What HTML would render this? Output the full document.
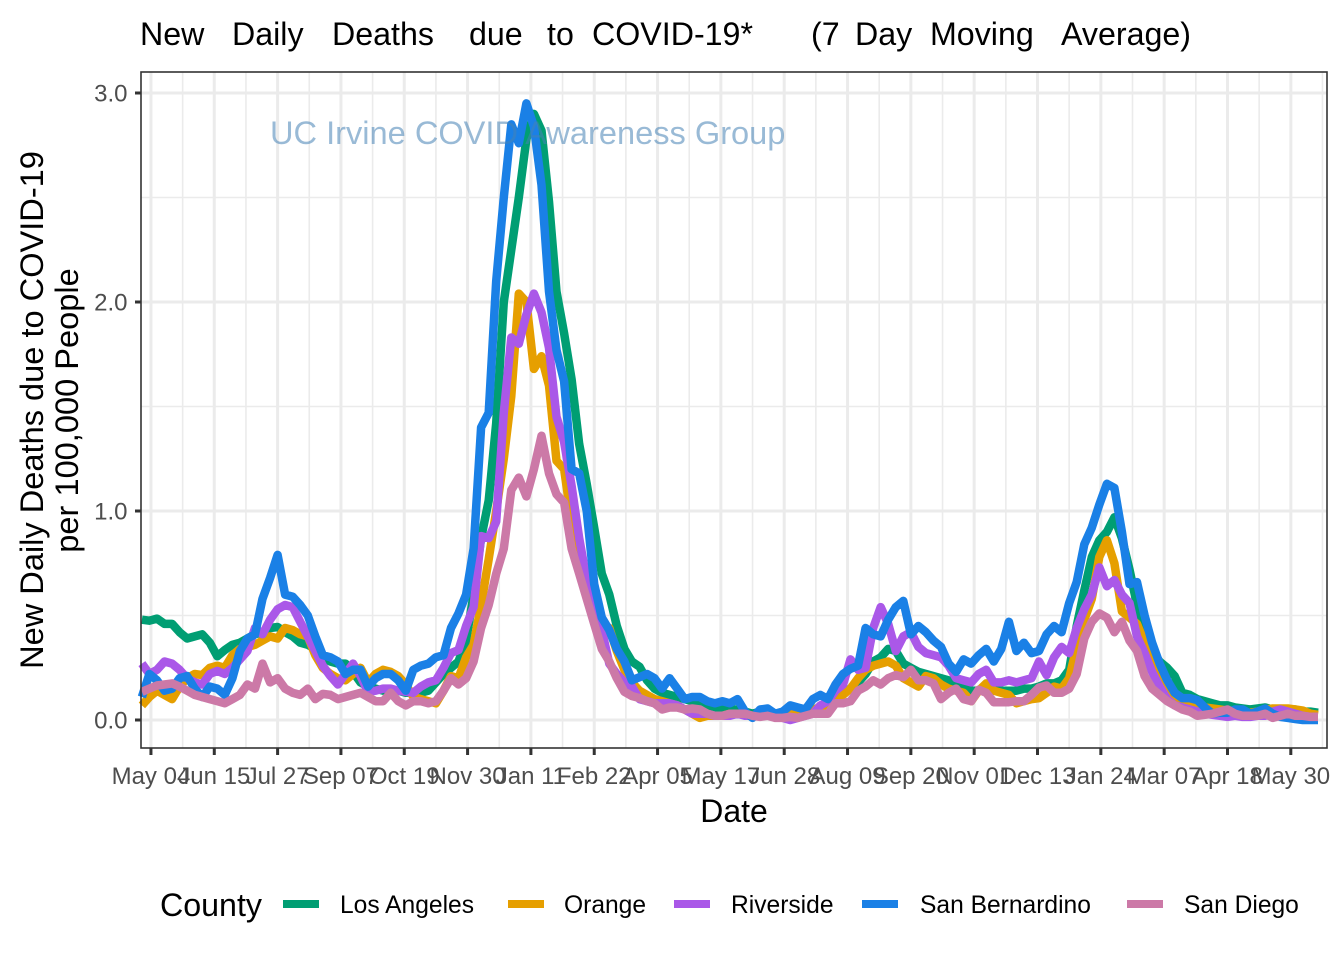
<!DOCTYPE html>
<html lang="en">
<head>
<meta charset="utf-8">
<title>New Daily Deaths due to COVID-19</title>
<style>
html,body{margin:0;padding:0;background:#fff;}
svg{display:block;}
text{font-family:"Liberation Sans",sans-serif;}
</style>
</head>
<body>
<svg id="chart" xmlns="http://www.w3.org/2000/svg" width="1344" height="960" viewBox="0 0 1344 960">
  <rect x="0" y="0" width="1344" height="960" fill="#ffffff"/>
  <text y="45" font-size="32.2" fill="#000"><tspan x="140">New</tspan><tspan x="232">Daily</tspan><tspan x="332">Deaths</tspan><tspan x="469">due</tspan><tspan x="547">to</tspan><tspan x="592">COVID-19*</tspan><tspan x="811">(7</tspan><tspan x="855">Day</tspan><tspan x="930">Moving</tspan><tspan x="1061">Average)</tspan></text>
  <g id="grid"></g>
  <g id="series"></g>
  <text x="270" y="144" font-size="32.6" fill="#4682B4" fill-opacity="0.55">UC Irvine COVID Awareness Group</text>
  <rect x="141" y="72" width="1186" height="676" fill="none" stroke="#333333" stroke-width="1.6"/>
  <g id="axes"></g>
  <text x="734" y="822" font-size="32" text-anchor="middle" fill="#000">Date</text>
  <text transform="translate(43,410) rotate(-90)" font-size="32.6" text-anchor="middle" fill="#000">New Daily Deaths due to COVID-19</text>
  <text transform="translate(78,410.5) rotate(-90)" font-size="32.6" text-anchor="middle" fill="#000">per 100,000 People</text>
  <g id="legend">
    <text x="160" y="916" font-size="32.2" fill="#000">County</text>
    <rect x="283" y="900" width="36" height="8" fill="#009E73"/>
    <text x="340" y="913" font-size="24.6" fill="#000">Los Angeles</text>
    <rect x="508" y="900" width="36" height="8" fill="#E69F00"/>
    <text x="564" y="913" font-size="24.6" fill="#000">Orange</text>
    <rect x="674" y="900" width="36" height="8" fill="#AA58E8"/>
    <text x="731" y="913" font-size="24.6" fill="#000">Riverside</text>
    <rect x="862" y="900" width="36" height="8" fill="#1A80E6"/>
    <text x="920" y="913" font-size="24.6" fill="#000">San Bernardino</text>
    <rect x="1127" y="900" width="36" height="8" fill="#CC79A7"/>
    <text x="1184" y="913" font-size="24.6" fill="#000">San Diego</text>
  </g>
</svg>
<script>
// Tick labels: one every 42 days, starting 04 May 2020
const xTickLabels = ["May 04","Jun 15","Jul 27","Sep 07","Oct 19","Nov 30","Jan 11","Feb 22","Apr 05","May 17","Jun 28","Aug 09","Sep 20","Nov 01","Dec 13","Jan 24","Mar 07","Apr 18","May 30"];
const yTickValues = [0, 1, 2, 3];
const yTickLabels = ["0.0", "1.0", "2.0", "3.0"];

// Samples are taken every five days starting 6 days before the first tick
const losAngeles = [
.48,.475,.485,.46,.46,.42,.39,.40,.41,.37,
.305,.335,.36,.37,.39,.41,.42,.44,.445,.42,
.40,.37,.36,.34,.30,.28,.27,.27,.23,.18,
.16,.15,.14,.14,.14,.13,.13,.13,.14,.18,
.22,.25,.28,.38,.60,.87,1.05,1.42,2.00,2.25,
2.50,2.78,2.90,2.82,2.48,2.05,1.85,1.63,1.32,1.13,
.92,.70,.60,.45,.34,.28,.255,.19,.15,.13,
.12,.11,.10,.09,.08,.07,.06,.05,.05,.05,
.04,.03,.04,.04,.03,.03,.04,.04,.04,.05,
.06,.07,.10,.13,.15,.18,.22,.28,.30,.34,
.33,.27,.25,.23,.22,.21,.20,.19,.16,.15,
.14,.14,.14,.14,.14,.14,.14,.15,.15,.16,
.175,.175,.19,.24,.45,.62,.78,.86,.90,.97,
.87,.72,.55,.44,.33,.28,.25,.21,.13,.12,
.10,.09,.08,.07,.07,.06,.055,.05,.055,.06,
.05,.05,.05,.05,.04,.04,.035];
const orange = [
.07,.11,.14,.12,.10,.16,.20,.22,.215,.25,
.26,.25,.31,.34,.35,.36,.38,.40,.39,.44,
.43,.41,.40,.31,.25,.22,.20,.19,.22,.25,
.18,.22,.24,.23,.21,.17,.11,.10,.09,.08,
.14,.21,.20,.30,.36,.55,.77,1.00,1.25,1.55,
2.04,2.00,1.68,1.74,1.60,1.24,1.20,.95,.82,.62,
.50,.46,.44,.33,.24,.18,.14,.12,.10,.09,
.08,.07,.05,.03,.01,.02,.02,.02,.03,.03,
.03,.02,.03,.03,.02,.02,.03,.03,.04,.05,
.06,.07,.09,.12,.15,.20,.24,.26,.27,.28,
.26,.20,.18,.16,.21,.20,.17,.15,.14,.13,
.09,.14,.175,.14,.13,.12,.08,.09,.10,.105,
.13,.16,.15,.20,.35,.48,.58,.78,.86,.75,
.52,.49,.46,.37,.29,.20,.16,.12,.09,.08,
.07,.06,.055,.05,.045,.04,.03,.035,.04,.05,
.055,.055,.055,.05,.045,.03,.025];
const riverside = [
.27,.22,.24,.28,.27,.24,.20,.18,.17,.22,
.235,.22,.25,.29,.33,.44,.41,.48,.53,.55,
.54,.47,.40,.33,.26,.21,.17,.22,.27,.21,
.135,.14,.15,.15,.14,.135,.13,.16,.18,.19,
.25,.32,.335,.45,.54,.88,.87,.95,1.47,1.83,
1.80,1.94,2.04,1.95,1.78,1.45,1.33,1.12,.87,.67,
.55,.43,.27,.22,.18,.16,.10,.09,.08,.08,
.08,.07,.05,.03,.03,.03,.02,.02,.02,.03,
.02,.02,.02,.02,.02,.01,.00,.01,.02,.03,
.07,.09,.14,.17,.29,.24,.25,.44,.54,.46,
.33,.40,.42,.35,.32,.31,.30,.26,.20,.19,
.18,.22,.24,.18,.18,.19,.18,.19,.20,.28,
.215,.30,.35,.32,.44,.53,.60,.73,.64,.67,
.60,.56,.40,.32,.23,.16,.10,.07,.06,.05,
.04,.03,.025,.02,.015,.02,.015,.015,.02,.02,
.04,.05,.04,.03,.02,.015,.015];
const sanBernardino = [
.11,.22,.19,.14,.15,.20,.21,.15,.11,.16,
.15,.12,.20,.33,.39,.41,.58,.68,.79,.60,
.59,.55,.50,.40,.31,.30,.28,.22,.24,.24,
.16,.20,.22,.22,.19,.14,.24,.26,.27,.30,
.31,.44,.51,.60,.82,1.40,1.47,2.10,2.50,2.85,
2.76,2.95,2.84,2.56,2.05,1.77,1.62,1.20,1.18,1.00,
.65,.49,.43,.34,.28,.19,.205,.22,.20,.15,
.20,.15,.10,.11,.11,.09,.08,.09,.08,.10,
.04,.01,.05,.055,.03,.04,.07,.06,.05,.10,
.12,.10,.17,.22,.245,.26,.44,.41,.40,.48,
.54,.57,.41,.45,.42,.38,.35,.27,.23,.29,
.27,.31,.34,.28,.34,.47,.33,.37,.32,.33,
.41,.45,.42,.56,.66,.84,.92,1.03,1.13,1.11,
.90,.65,.66,.50,.37,.27,.19,.13,.105,.105,
.095,.06,.03,.035,.035,.05,.05,.03,.04,.055,
.03,.015,.01,.005,0,0,0];
const sanDiego = [
.135,.15,.165,.17,.175,.16,.14,.12,.11,.10,
.09,.08,.10,.12,.17,.15,.27,.18,.20,.15,
.13,.12,.15,.10,.125,.12,.10,.11,.12,.13,
.11,.09,.09,.13,.09,.07,.09,.09,.08,.09,
.14,.20,.17,.20,.28,.44,.55,.70,.82,1.10,
1.16,1.07,1.20,1.36,1.18,1.08,1.04,.82,.70,.58,
.46,.34,.28,.20,.135,.115,.105,.09,.08,.05,
.06,.06,.05,.055,.05,.03,.02,.02,.03,.03,
.03,.02,.015,.02,.01,.01,.015,.01,.02,.03,
.03,.03,.08,.08,.09,.14,.16,.19,.17,.20,
.215,.205,.24,.19,.19,.175,.10,.13,.15,.10,
.09,.145,.13,.085,.085,.085,.09,.09,.12,.155,
.165,.13,.13,.15,.22,.39,.47,.51,.49,.42,
.47,.38,.33,.21,.15,.12,.09,.07,.05,.04,
.02,.025,.03,.04,.05,.03,.02,.02,.02,.03,
.01,.02,.03,.02,.02,.015,.015];

const SVG_NS = "http://www.w3.org/2000/svg";
const firstSampleDay = -6;
const sampleStepDays = 5;
const tickStepDays = 42;

// Axis functions
function xScale(day) {
  const domain = [-6.6, 780];
  const range = [141, 1327];
  return range[0] + (day - domain[0]) * (range[1] - range[0]) / (domain[1] - domain[0]);
}
function yScale(value) {
  return 720 - value * 209;
}

function addLine(parent, x1, y1, x2, y2, color, width) {
  const el = document.createElementNS(SVG_NS, "line");
  el.setAttribute("x1", x1);
  el.setAttribute("y1", y1);
  el.setAttribute("x2", x2);
  el.setAttribute("y2", y2);
  el.setAttribute("stroke", color);
  el.setAttribute("stroke-width", width);
  parent.appendChild(el);
  return el;
}

const grid = document.getElementById("grid");
const axes = document.getElementById("axes");
const GRID_COLOR = "#EBEBEB";

// Minor grid
for (let i = -1; i < yTickValues.length; i++) {
  const y = yScale(i + 0.5);
  if (y < 72 || y > 748) continue;
  const el = addLine(grid, 141, y, 1327, y, GRID_COLOR, 1.6);
  
  
}
for (let i = 0; i < xTickLabels.length; i++) {
  const x = xScale((i + 0.5) * tickStepDays);
  if (x > 1327) continue;
  const el = addLine(grid, x, 72, x, 748, GRID_COLOR, 1.6);
  
  
}
// Major grid, ticks and tick labels
yTickValues.forEach(function (v, i) {
  const y = yScale(v);
  const g = addLine(grid, 141, y, 1327, y, GRID_COLOR, 3);
  
  
  const t = addLine(axes, 135, y, 141, y, "#333333", 3);
  
  
  const label = document.createElementNS(SVG_NS, "text");
  
  
  label.setAttribute("x", 127.5);
  label.setAttribute("y", y + 8.5);
  label.setAttribute("text-anchor", "end");
  label.setAttribute("font-size", 24);
  label.setAttribute("fill", "#4D4D4D");
  label.textContent = yTickLabels[i];
  axes.appendChild(label);
});
xTickLabels.forEach(function (name, i) {
  const x = xScale(i * tickStepDays);
  const g = addLine(grid, x, 72, x, 748, GRID_COLOR, 3);
  
  
  const t = addLine(axes, x, 748, x, 755, "#333333", 3);
  
  
  const label = document.createElementNS(SVG_NS, "text");
  
  
  label.setAttribute("x", x);
  label.setAttribute("y", 784);
  label.setAttribute("text-anchor", "middle");
  label.setAttribute("font-size", 24);
  label.setAttribute("fill", "#4D4D4D");
  label.textContent = name;
  axes.appendChild(label);
});

// Series lines
const seriesGroup = document.getElementById("series");
function drawSeries(values, color, name) {
  const pts = values.map(function (v, i) {
    const day = firstSampleDay + i * sampleStepDays;
    return xScale(day).toFixed(1) + "," + yScale(v).toFixed(1);
  });
  const el = document.createElementNS(SVG_NS, "polyline");
  
  
  el.setAttribute("points", pts.join(" "));
  el.setAttribute("fill", "none");
  el.setAttribute("stroke", color);
  el.setAttribute("stroke-width", 8.5);
  el.setAttribute("stroke-linejoin", "round");
  el.setAttribute("stroke-linecap", "butt");
  seriesGroup.appendChild(el);
}
drawSeries(losAngeles, "#009E73", "line-los-angeles");
drawSeries(orange, "#E69F00", "line-orange");
drawSeries(riverside, "#AA58E8", "line-riverside");
drawSeries(sanBernardino, "#1A80E6", "line-san-bernardino");
drawSeries(sanDiego, "#CC79A7", "line-san-diego");
</script>
</body>
</html>
